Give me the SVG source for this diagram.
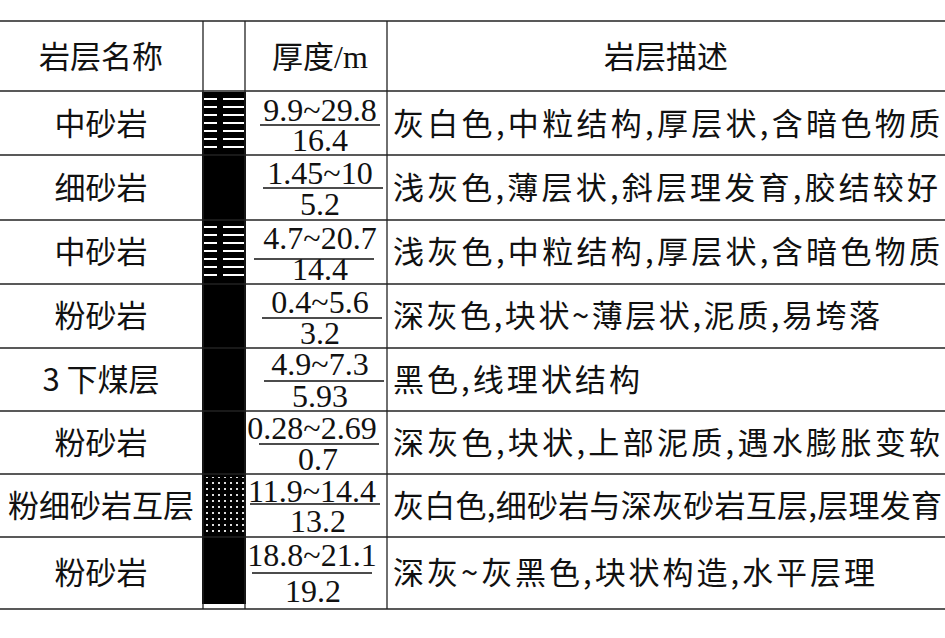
<svg xmlns="http://www.w3.org/2000/svg" width="945" height="638" viewBox="0 0 945 638">
<style>
.g{stroke:#222;stroke-width:1.3;fill:none}
.c{font-family:"Noto Sans CJK SC",sans-serif;font-size:31px;fill:#111;text-anchor:middle}
.d{font-family:"Noto Sans CJK SC",sans-serif;font-size:31px;fill:#111}
.n{font-family:"Liberation Serif",serif;font-size:32px;fill:#111;text-anchor:middle}
.f{stroke:#111;stroke-width:1.3}
</style>
<defs>
<pattern id="st" width="44" height="8" patternUnits="userSpaceOnUse"><rect width="44" height="8" fill="#000"/><rect x="3" y="2" width="38" height="2" fill="#fff"/></pattern>
<pattern id="dt" width="6" height="6" patternUnits="userSpaceOnUse"><rect width="6" height="6" fill="#000"/><rect x="2" y="2" width="2" height="2" fill="#ddd"/></pattern>
</defs>
<rect width="945" height="638" fill="#fff"/>
<g id="column">
<rect x="202" y="92" width="44" height="512" fill="#000"/>
<rect x="204" y="95" width="40" height="57" fill="url(#st)"/>
<rect x="204" y="223" width="40" height="58" fill="url(#st)"/>
<rect x="204" y="477" width="40" height="58" fill="url(#dt)"/>
</g>
<g id="grid">
<line class="g" x1="0" y1="21" x2="945" y2="21"/>
<line class="g" x1="0" y1="91" x2="945" y2="91"/>
<line class="g" x1="0" y1="155" x2="945" y2="155"/>
<line class="g" x1="0" y1="220" x2="945" y2="220"/>
<line class="g" x1="0" y1="284" x2="945" y2="284"/>
<line class="g" x1="0" y1="348" x2="945" y2="348"/>
<line class="g" x1="0" y1="411" x2="945" y2="411"/>
<line class="g" x1="0" y1="474" x2="945" y2="474"/>
<line class="g" x1="0" y1="537" x2="945" y2="537"/>
<line class="g" x1="0" y1="609" x2="945" y2="609"/>
<line class="g" x1="203" y1="21" x2="203" y2="609"/>
<line class="g" x1="245" y1="21" x2="245" y2="609"/>
<line class="g" x1="387" y1="21" x2="387" y2="609"/>
</g>
<g id="header">
<text class="c" x="101" y="68">岩层名称</text>
<text class="n" x="320" y="68"><tspan font-family="Noto Sans CJK SC" font-size="31">厚度</tspan>/m</text>
<text class="c" x="666" y="68">岩层描述</text>
</g>
<g id="names">
<text class="c" x="101" y="135">中砂岩</text>
<text class="c" x="101" y="199">细砂岩</text>
<text class="c" x="101" y="263">中砂岩</text>
<text class="c" x="101" y="327">粉砂岩</text>
<text class="c" x="101" y="391">3 下煤层</text>
<text class="c" x="101" y="454">粉砂岩</text>
<text class="c" x="101" y="517">粉细砂岩互层</text>
<text class="c" x="101" y="584">粉砂岩</text>
</g>
<g id="thick">
<text class="n" x="320" y="121">9.9~29.8</text><line class="f" x1="260" y1="125" x2="380" y2="125"/><text class="n" x="320" y="151">16.4</text>
<text class="n" x="320" y="184">1.45~10</text><line class="f" x1="263" y1="188" x2="383" y2="188"/><text class="n" x="320" y="215">5.2</text>
<text class="n" x="320" y="249">4.7~20.7</text><line class="f" x1="254" y1="259" x2="374" y2="259"/><text class="n" x="320" y="280">14.4</text>
<text class="n" x="320" y="313">0.4~5.6</text><line class="f" x1="262" y1="318" x2="382" y2="318"/><text class="n" x="320" y="344">3.2</text>
<text class="n" x="320" y="375">4.9~7.3</text><line class="f" x1="264" y1="381" x2="384" y2="381"/><text class="n" x="320" y="407">5.93</text>
<text class="n" x="312" y="439">0.28~2.69</text><line class="f" x1="259" y1="444" x2="379" y2="444"/><text class="n" x="318" y="470">0.7</text>
<text class="n" x="312" y="502">11.9~14.4</text><line class="f" x1="250" y1="504" x2="380" y2="504"/><text class="n" x="318" y="532">13.2</text>
<text class="n" x="312" y="566">18.8~21.1</text><line class="f" x1="252" y1="573" x2="372" y2="573"/><text class="n" x="313" y="602">19.2</text>
</g>
<g id="desc">
<text class="d" x="393" y="135" textLength="547" lengthAdjust="spacing">灰白色,中粒结构,厚层状,含暗色物质</text>
<text class="d" x="393" y="199" textLength="545" lengthAdjust="spacing">浅灰色,薄层状,斜层理发育,胶结较好</text>
<text class="d" x="393" y="263" textLength="547" lengthAdjust="spacing">浅灰色,中粒结构,厚层状,含暗色物质</text>
<text class="d" x="393" y="327" textLength="487" lengthAdjust="spacing">深灰色,块状~薄层状,泥质,易垮落</text>
<text class="d" x="393" y="391" textLength="247" lengthAdjust="spacing">黑色,线理状结构</text>
<text class="d" x="393" y="454" textLength="547" lengthAdjust="spacing">深灰色,块状,上部泥质,遇水膨胀变软</text>
<text class="d" x="393" y="517" textLength="549" lengthAdjust="spacing">灰白色,细砂岩与深灰砂岩互层,层理发育</text>
<text class="d" x="393" y="584" textLength="482" lengthAdjust="spacing">深灰~灰黑色,块状构造,水平层理</text>
</g>
</svg>
